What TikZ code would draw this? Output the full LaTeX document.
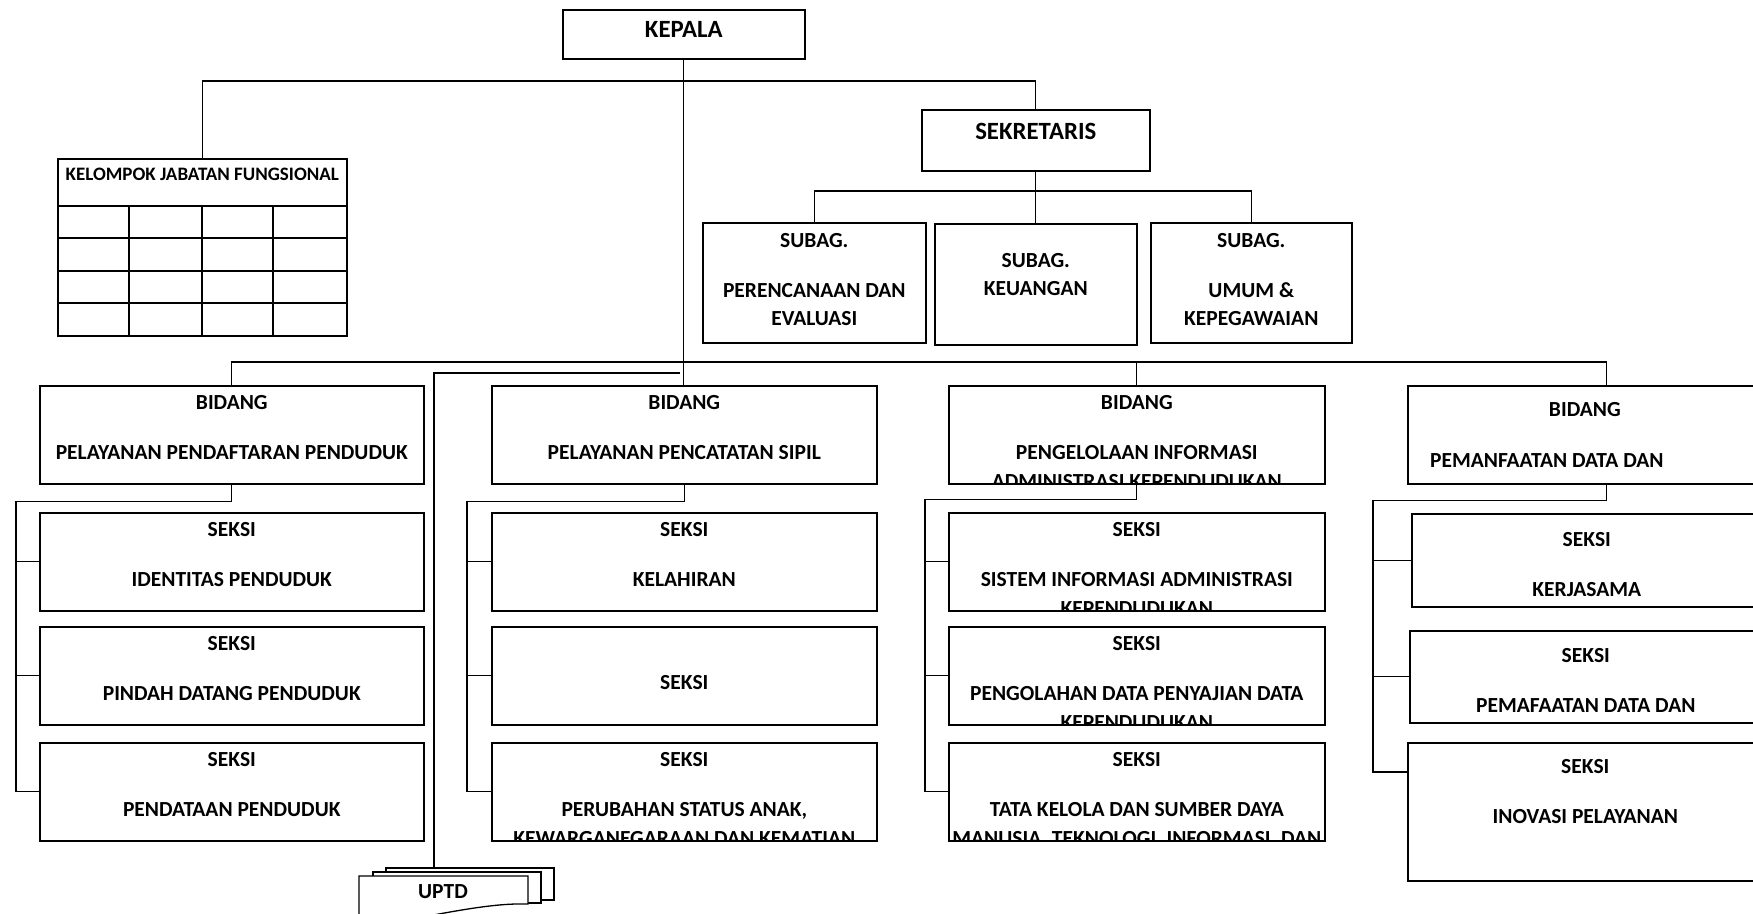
\documentclass[tikz,border=0pt]{standalone}
\usepackage{fontspec}
\setmainfont{Carlito}

\tikzset{
  unit/.style={draw, line width=1.6pt, fill=white, anchor=north west, inner sep=0pt},
  wh/.style 2 args={minimum width=#1pt, minimum height=#2pt},
  lbl/.style={font=\bfseries\fontsize{21.5}{28.5}\selectfont, align=center, anchor=north, inner sep=0pt, yshift=0.8pt},
  bigl/.style={lbl, font=\bfseries\fontsize{24.8}{28}\selectfont},
  link/.style={line width=1.3pt},
}

\begin{document}
\begin{tikzpicture}[x=1pt, y=-1pt]
\useasboundingbox (0,0) rectangle (1753,913);

% gap of the empty line between two lines of a box
\def\gap{21.5pt}

% Top: kepala, sekretaris and the functional group
\node[unit, wh={242}{49}] (kepala) at (562,9) {};
\node[bigl] (kepalat) at ([yshift=-13pt]kepala.north) {KEPALA};

\node[unit, wh={228}{61}] (sekre) at (921,109) {};
\node[bigl] (sekret) at ([yshift=-15pt]sekre.north) {SEKRETARIS};

\node[unit, wh={289}{177}] (kjf) at (57,158) {};
\node[lbl, font=\bfseries\fontsize{19}{22}\selectfont] (kjft) at ([yshift=-11pt]kjf.north) {KELOMPOK JABATAN FUNGSIONAL};
\foreach \r in {48,80,113,145}
  \draw[line width=1.6pt] ([yshift=-\r pt]kjf.north west) -- ([yshift=-\r pt]kjf.north east);
\foreach \c in {72,145,216}
  \draw[line width=1.3pt] ([xshift=\c pt, yshift=-48pt]kjf.north west) -- ([xshift=\c pt]kjf.south west);

% Sub bagian under the sekretaris
\node[unit, wh={223}{120}] (sp) at (702,222) {};
\node[lbl] (spt) at ([yshift=-11.5pt]sp.north) {SUBAG.\\[\gap]PERENCANAAN DAN\\EVALUASI};
\node[unit, wh={202}{121}] (keu) at (934,223) {};
\node[lbl] (keut) at ([yshift=-30.5pt]keu.north) {SUBAG.\\KEUANGAN};
\node[unit, wh={201}{120}] (umum) at (1150,222) {};
\node[lbl] (umumt) at ([yshift=-11.5pt]umum.north) {SUBAG.\\[\gap]UMUM \&\\KEPEGAWAIAN};

% Bidang row
\node[unit, wh={384}{98}] (b1) at (39,385) {};
\node[lbl] (b1t) at ([yshift=-11pt]b1.north) {BIDANG\\[\gap]PELAYANAN PENDAFTARAN PENDUDUK};
\node[unit, wh={385}{98}] (b2) at (491,385) {};
\node[lbl] (b2t) at ([yshift=-11pt]b2.north) {BIDANG\\[\gap]PELAYANAN PENCATATAN SIPIL};
\node[unit, wh={376}{98}] (b3) at (948,385) {};
\begin{scope}
  \clip (b3.north west) rectangle ([yshift=0.8pt]b3.south east);
  \node[lbl] (b3t) at ([yshift=-11pt]b3.north) {BIDANG\\[\gap]PENGELOLAAN INFORMASI\\ADMINISTRASI KEPENDUDUKAN};
\end{scope}
\node[unit, wh={398}{98}] (b4) at (1407,385) {};
\node[lbl] (b4t) at ([xshift=-22pt, yshift=-18pt]b4.north) {BIDANG};
\node[lbl] (b4u) at ([xshift=-60pt, yshift=-69pt]b4.north) {PEMANFAATAN DATA DAN};

% Seksi of bidang 1
\node[unit, wh={384}{98}] (s11) at (39,512) {};
\node[lbl] (s11t) at ([yshift=-11pt]s11.north) {SEKSI\\[\gap]IDENTITAS PENDUDUK};
\node[unit, wh={384}{98}] (s12) at (39,626) {};
\node[lbl] (s12t) at ([yshift=-11pt]s12.north) {SEKSI\\[\gap]PINDAH DATANG PENDUDUK};
\node[unit, wh={384}{98}] (s13) at (39,742) {};
\node[lbl] (s13t) at ([yshift=-11pt]s13.north) {SEKSI\\[\gap]PENDATAAN PENDUDUK};

% Seksi of bidang 2
\node[unit, wh={385}{98}] (s21) at (491,512) {};
\node[lbl] (s21t) at ([yshift=-11pt]s21.north) {SEKSI\\[\gap]KELAHIRAN};
\node[unit, wh={385}{98}] (s22) at (491,626) {};
\node[lbl] (s22t) at ([yshift=-50pt]s22.north) {SEKSI};
\node[unit, wh={385}{98}] (s23) at (491,742) {};
\begin{scope}
  \clip (s23.north west) rectangle ([yshift=0.8pt]s23.south east);
  \node[lbl] (s23t) at ([yshift=-11pt]s23.north) {SEKSI\\[\gap]PERUBAHAN STATUS ANAK,\\KEWARGANEGARAAN DAN KEMATIAN};
\end{scope}

% Seksi of bidang 3
\node[unit, wh={376}{98}] (s31) at (948,512) {};
\node[unit, wh={376}{98}] (s32) at (948,626) {};
\node[unit, wh={376}{98}] (s33) at (948,742) {};
\begin{scope}
  \clip (s31.north west) rectangle ([yshift=0.8pt]s31.south east);
  \node[lbl] (s31t) at ([yshift=-11pt]s31.north) {SEKSI\\[\gap]SISTEM INFORMASI ADMINISTRASI\\KEPENDUDUKAN};
\end{scope}
\begin{scope}
  \clip (s32.north west) rectangle ([yshift=0.8pt]s32.south east);
  \node[lbl] (s32t) at ([yshift=-11pt]s32.north) {SEKSI\\[\gap]PENGOLAHAN DATA PENYAJIAN DATA\\KEPENDUDUKAN};
\end{scope}
\begin{scope}
  \clip (s33.north west) rectangle ([yshift=0.8pt]s33.south east);
  \node[lbl] (s33t) at ([yshift=-11pt]s33.north) {SEKSI\\[\gap]TATA KELOLA DAN SUMBER DAYA\\MANUSIA, TEKNOLOGI, INFORMASI, DAN};
\end{scope}

% Seksi of bidang 4
\node[unit, wh={350}{93}] (s41) at (1411,513) {};
\node[lbl] (s41t) at ([yshift=-20pt]s41.north) {SEKSI\\[\gap]KERJASAMA};
\node[unit, wh={352}{92}] (s42) at (1409,630) {};
\node[lbl] (s42t) at ([yshift=-19pt]s42.north) {SEKSI\\[\gap]PEMAFAATAN DATA DAN};
\node[unit, wh={355}{138}] (s43) at (1407,742) {};
\node[lbl] (s43t) at ([yshift=-18pt]s43.north) {SEKSI\\[\gap]INOVASI PELAYANAN};

% UPTD, a stack of documents
\filldraw[link, fill=white] (386,868) rectangle (554,900);
\filldraw[link, fill=white] (373,872) rectangle (541,903);
\filldraw[link, fill=white] (359,876) -- (528,876) -- (528,904) .. controls (495,903) and (455,910) .. (359,930) -- cycle;
\node[lbl, anchor=center] (uptd) at (443,892) {UPTD};
\coordinate (uptdtop) at (434,868);
\coordinate (uptdjoin) at (680,373);

% Add connectors
\draw[link] (kepala.south) -- (kepala.south |- b2.north);
\draw[link] (kjf.north) -- ++(0,-77) -| (sekre.north);
\draw[link] (sekre.south) -- (sekre.south |- keu.north);
\draw[link] (sp.north) -- ++(0,-31) -| (umum.north);
\draw[link] (b1.north) -- ++(0,-23) -| (b4.north);
\draw[link] (b3.north) -- ++(0,-23);
\draw[link] (uptdtop) |- (uptdjoin);

\draw[link] (b1.south) -- ++(0,17) -| ([xshift=-23pt]s13.west) -- (s13.west);
\draw[link] ([xshift=-23pt]s11.west) -- (s11.west);
\draw[link] ([xshift=-23pt]s12.west) -- (s12.west);

\draw[link] (b2.south) -- ++(0,17) -| ([xshift=-24pt]s23.west) -- (s23.west);
\draw[link] ([xshift=-24pt]s21.west) -- (s21.west);
\draw[link] ([xshift=-24pt]s22.west) -- (s22.west);

\draw[link] (b3.south) -- ++(0,15) -| ([xshift=-23pt]s33.west) -- (s33.west);
\draw[link] ([xshift=-23pt]s31.west) -- (s31.west);
\draw[link] ([xshift=-23pt]s32.west) -- (s32.west);

\draw[link] (b4.south) -- ++(0,16) -| ([xshift=-34pt, yshift=-30pt]s43.north west) -- ([yshift=-30pt]s43.north west);
\draw[link] ([xshift=-38pt]s41.west) -- (s41.west);
\draw[link] ([xshift=-36pt]s42.west) -- (s42.west);

\end{tikzpicture}
\end{document}
